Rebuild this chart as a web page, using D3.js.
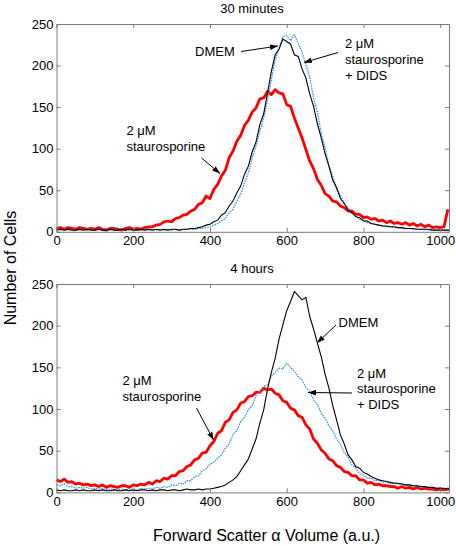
<!DOCTYPE html>
<html><head><meta charset="utf-8">
<script src="https://cdn.jsdelivr.net/npm/d3@7"></script>
<style>body{margin:0;background:#fff}svg{display:block}text{font-family:"Liberation Sans",Arial,sans-serif}</style>
</head><body><svg id="c" width="456" height="546"></svg>
<script>
// channel bins: 0..1020 step 10, then the last channel 1023
const bins = d3.range(0, 1021, 10).concat([1023]);
const xTicks = [0, 200, 400, 600, 800, 1000];
const yTicks = [0, 50, 100, 150, 200, 250];
const panelTitles = ["30 minutes", "4 hours"];

// 30 minutes
const top_red = [4,5,3,5,4,3,5,4,3,4,3,5,3,2,4,4,3,2,4,5,3,4,3,5,6,
 6,8,9,12,13,12,16,17,20,21,25,27,33,35,43,40,51,57,67,74,89,97,109,116,128,134,144,149,160,161,169,165,171,167,166,153,151,137,125,113,99,85,76,63,56,46,43,37,36,31,29,25,25,21,21,17,18,15,16,13,14,11,13,10,11,9,11,8,10,7,9,6,8,5,6,5,6,27];
const top_black = [2,3,2,3,2,2,3,2,3,2,2,3,2,2,3,2,2,3,2,3,2,2,3,2,3,2,3,2,3,2,3,3,2,3,3,
 4,4,5,6,8,9,12,14,20,23,31,37,47,55,69,79,96,108,129,142,167,193,213,220,232,229,226,213,211,196,185,166,151,130,113,94,79,62,53,40,34,26,23,18,17,13,13,10,9,8,7,7,6,6,5,5,4,4,4,3,3,3,3,2,2,2,2,2,2];
const top_blue = [3,2,3,2,3,2,2,3,2,3,2,2,3,2,2,3,2,3,2,2,3,2,3,2,2,3,2,3,2,3,2,3,2,3,3,
 3,3,4,4,5,6,8,10,13,16,23,27,37,45,59,71,89,103,121,137,159,183,207,220,235,236,230,237,227,216,201,186,161,144,118,101,80,67,52,44,34,29,22,20,15,14,11,10,9,8,7,6,6,5,5,4,4,4,3,3,3,3,2,2,2,2,2,2,2];

// 4 hours
const bot_red = [15,13,16,12,13,10,11,9,10,8,9,7,9,6,8,7,6,8,8,6,9,8,10,9,12,10,14,13,17,16,20,20,25,26,31,33,39,41,47,48,56,61,71,74,84,87,96,99,107,109,115,116,120,120,125,123,124,119,117,110,108,101,99,92,90,81,76,64,59,51,47,40,38,32,30,25,24,20,20,15,15,11,12,9,10,8,8,7,7,5,7,5,6,4,6,4,5,4,4,3,4,3,4,4];
const bot_blue = [9,8,10,7,7,5,6,5,6,4,5,4,5,3,4,4,3,4,3,4,4,3,5,4,5,4,6,5,7,6,9,8,11,10,14,14,19,20,26,28,34,36,41,45,53,58,69,74,85,90,99,104,116,121,127,129,139,144,149,148,155,150,145,139,135,126,121,111,105,95,89,80,74,64,58,48,42,33,29,22,21,17,17,14,15,12,13,10,12,10,10,8,9,7,8,6,7,5,6,5,6,4,5,5];
const bot_black = [3,2,3,2,2,3,2,3,2,2,3,2,3,2,2,3,2,2,3,2,3,2,3,3,2,3,2,3,3,2,3,3,2,3,4,3,3,4,3,4,4,5,6,7,9,12,15,19,26,33,40,52,64,83,99,124,144,161,184,201,218,229,241,236,231,234,211,196,179,163,142,125,104,87,69,58,45,39,31,29,24,22,19,17,15,14,13,12,11,11,10,9,9,8,8,7,7,6,6,5,5,5,4,4];

const panels = [
  {title: panelTitles[0], y0: 24, y1: 231.8, red: top_red, blue: top_blue, black: top_black},
  {title: panelTitles[1], y0: 284, y1: 492.4, red: bot_red, blue: bot_blue, black: bot_black}
];

const svg = d3.select("#c");
const X0 = 56.5, X1 = 449;
const x = d3.scaleLinear().domain([0, 1023]).range([X0, X1]);
const boxColor = "#7a7a7a";

// arrow marker
const defs = svg.append("defs");
defs.append("marker").attr("id","ah").attr("viewBox","0 0 10 10").attr("refX",10).attr("refY",5)
  .attr("markerWidth",8).attr("markerHeight",8).attr("orient","auto").attr("markerUnits","userSpaceOnUse")
  .append("path").attr("d","M0,1.5 L10,5 L0,8.5 Z").attr("fill","#000").attr("stroke","none");

panels.forEach((p, pi) => {
  const y = d3.scaleLinear().domain([0, 250]).range([p.y1, p.y0]);
  const g = svg.append("g");
  const line = d3.line().x((d,i) => x(bins[i])).y(d => y(d));

  g.append("path").datum(p.red).attr("d", line).attr("fill","none")
    .attr("stroke","#ff0000").attr("stroke-width",2.8).attr("stroke-linejoin","round");
  g.append("path").datum(p.blue).attr("d", line).attr("fill","none")
    .attr("stroke","#3a95e6").attr("stroke-width",1.3).attr("stroke-dasharray","1.6,1");
  g.append("path").datum(p.black).attr("d", line).attr("fill","none")
    .attr("stroke","#000").attr("stroke-width",1.1);

  const styleAxis = a => {
    a.select(".domain").attr("stroke", boxColor);
    a.selectAll(".tick line").attr("stroke", boxColor);
    a.selectAll(".tick text").attr("fill","#000").style("font-size","13px")
      .style("font-family","'Liberation Sans',Arial,sans-serif");
  };
  g.append("g").attr("transform",`translate(0,${p.y1})`)
    .call(d3.axisBottom(x).tickValues(xTicks).tickFormat(d3.format("d")).tickSize(-4).tickSizeOuter(0).tickPadding(4)).call(styleAxis);
  g.append("g").attr("transform",`translate(0,${p.y0})`)
    .call(d3.axisTop(x).tickValues(xTicks).tickSize(-4).tickSizeOuter(0).tickFormat("")).call(styleAxis);
  g.append("g").attr("transform",`translate(${X0},0)`)
    .call(d3.axisLeft(y).tickValues(yTicks).tickFormat(d3.format("d")).tickSize(-4).tickSizeOuter(0).tickPadding(3)).call(styleAxis);
  g.append("g").attr("transform",`translate(${X1},0)`)
    .call(d3.axisRight(y).tickValues(yTicks).tickSize(-4).tickSizeOuter(0).tickFormat("")).call(styleAxis);

  svg.append("text").attr("x", 252).attr("y", p.y0 - 11).attr("text-anchor","middle")
    .style("font-size","13px").text(p.title);
});

// annotations
function label(lines, x0, yBase, dy) {
  const t = svg.append("text").style("font-size","13px");
  lines.forEach((s, i) => t.append("tspan").attr("x", x0).attr("y", yBase + i*dy).text(s));
}
function arrow(x1,y1,x2,y2){
  svg.append("line").attr("x1",x1).attr("y1",y1).attr("x2",x2).attr("y2",y2)
    .attr("stroke","#000").attr("stroke-width",1).attr("marker-end","url(#ah)");
}
// top panel
label(["DMEM"], 195, 56, 16);
arrow(241, 51.5, 278, 46);
label(["2 \u03bcM","staurosporine","+ DIDS"], 345, 47.5, 16);
arrow(338, 52.5, 304, 62.5);
label(["2 \u03bcM","staurosporine"], 126.5, 135, 16);
arrow(201.5, 158, 220, 173.5);
// bottom panel
label(["DMEM"], 338.5, 327, 16);
arrow(336, 325, 317, 343);
label(["2 \u03bcM","staurosporine","+ DIDS"], 357, 377.5, 15.5);
arrow(352, 393, 308, 392.5);
label(["2 \u03bcM","staurosporine"], 122.5, 384.5, 16.5);
arrow(196.5, 408, 213.5, 440);

// axis titles
svg.append("text").attr("transform","translate(16,268) rotate(-90)").attr("text-anchor","middle")
  .style("font-size","16px").text("Number of Cells");
svg.append("text").attr("x", 153).attr("y", 541).style("font-size","16px")
  .text("Forward Scatter \u03b1 Volume (a.u.)");
</script></body></html>
